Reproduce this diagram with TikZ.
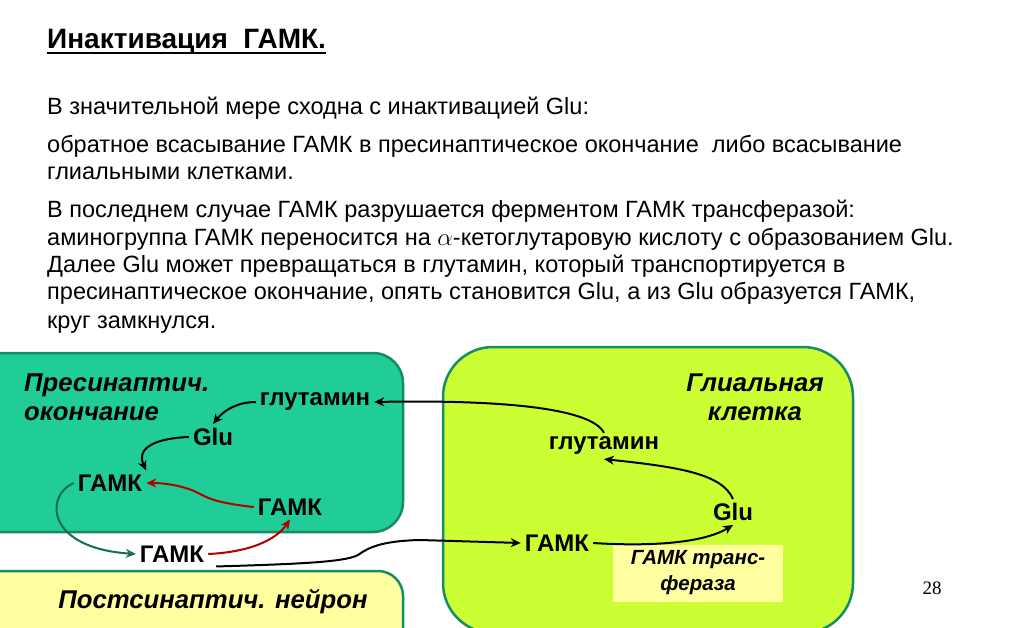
\documentclass[tikz,border=0pt]{standalone}
\usepackage{fontspec}
\setmainfont{Liberation Sans}
\newfontfamily\pageserif{Liberation Serif}
\usetikzlibrary{arrows.meta}
\definecolor{presyn}{RGB}{32,204,152}
\definecolor{glial}{RGB}{204,255,51}
\definecolor{postyel}{RGB}{255,255,160}
\definecolor{edgegreen}{RGB}{22,140,100}
\tikzset{
  body/.style={anchor=base west, inner sep=0pt, font=\fontsize{23.5}{26}\selectfont},
  lbl/.style={inner sep=4pt, font=\fontsize{24}{28}\selectfont\bfseries},
  region/.style={font=\fontsize{25.7}{29}\selectfont\bfseries\itshape, inner sep=0pt},
  cell/.style={draw=edgegreen, line width=2.5pt},
  arr/.style={line width=2pt, -{Stealth[length=10pt,width=9pt]}},
}
\begin{document}
\begin{tikzpicture}[x=1pt,y=-1pt]
\useasboundingbox (0,0) rectangle (1024,628);
\begin{scope}
\clip (0,0) rectangle (1024,628);
\draw[cell, fill=presyn, rounded corners=30pt] (-30,353) rectangle (403,532);
\draw[cell, fill=postyel, rounded corners=25pt] (-30,571) rectangle (403,660);
\draw[cell, fill=glial, rounded corners=50pt] (443,347) rectangle (853,633);
\end{scope}
\node[fill=postyel, minimum width=170pt, minimum height=57pt, inner sep=0pt, align=center,
  font=\fontsize{20.5}{26}\selectfont\bfseries\itshape] (enz) at (698,573) {ГАМК транс-\\фераза};

% title and body text
\node[anchor=base west, inner sep=0pt, font=\fontsize{28}{30}\selectfont\bfseries] (title) at (47,49) {Инактивация\ \ ГАМК.};
\draw[line width=2.4pt] ([yshift=-4pt]title.base west) -- ([yshift=-4pt]title.base east);
\node[body] (t1) at (47,115) {В значительной мере сходна с инактивацией Glu:};
\node[body] (t2) at (47,153) {обратное всасывание ГАМК в пресинаптическое окончание\ \ либо всасывание};
\node[body] (t3) at (47,180) {глиальными клетками.};
\node[body] (t4) at (47,218) {В последнем случае ГАМК разрушается ферментом ГАМК трансферазой:};
\node[body] (t5) at (47,245) {аминогруппа ГАМК переносится на $\alpha$-кетоглутаровую кислоту с образованием Glu.};
\node[body] (t6) at (47,272) {Далее Glu может превращаться в глутамин, который транспортируется в};
\node[body] (t7) at (47,299) {пресинаптическое окончание, опять становится Glu, а из Glu образуется ГАМК,};
\node[body] (t8) at (47,328) {круг замкнулся.};

% region labels
\node[region, align=left, anchor=west] (presynlbl) at (24,397) {Пресинаптич.\\окончание};
\node[region, anchor=center] (postlbl) at (213,602) {Постсинаптич. нейрон};
\node[region, align=center, anchor=center] (glilbl) at (755,397) {Глиальная\\клетка};

% substance labels
\node[lbl] (pg) at (315,402) {глутамин};
\node[lbl] (pglu) at (213,437) {Glu};
\node[lbl] (pgaba) at (110,483) {ГАМК};
\node[lbl] (rgaba) at (290,507) {ГАМК};
\node[lbl] (cgaba) at (172,554) {ГАМК};
\node[lbl] (gg) at (604,446) {глутамин};
\node[lbl] (gglu) at (733,512) {Glu};
\node[lbl] (ggaba) at (557,543) {ГАМК};

\node[font=\fontsize{19}{22}\selectfont\pageserif] (pnum) at (932,588) {28};

% connectors
\draw[arr] (gg.north) .. controls (590,405) and (480,400) .. (pg.east);
\draw[arr] (pg.west) .. controls (238,402) and (224,410) .. (pglu.north);
\draw[arr] (pglu.west) .. controls (160,438) and (135,446) .. (pgaba.north east);
\draw[arr, draw=red!70!black] (rgaba.west) .. controls (218,503) and (210,499) .. (200,494) .. controls (190,488) and (170,483) .. (pgaba.east);
\draw[arr, draw=edgegreen!80!black] (pgaba.west) .. controls (45,495) and (45,548) .. (cgaba.west);
\draw[arr, draw=red!70!black] (cgaba.east) .. controls (250,552) and (276,540) .. (rgaba.south);
\draw[arr] ([xshift=8pt]cgaba.south east) .. controls (300,564) and (345,562) .. (358,555) .. controls (368,548) and (380,541) .. (420,540) -- (ggaba.west);
\draw[arr] (ggaba.east) .. controls (640,546) and (700,545) .. (gglu.south);
\draw[arr] (gglu.north) .. controls (722,474) and (680,467) .. (gg.south);
\end{tikzpicture}
\end{document}
